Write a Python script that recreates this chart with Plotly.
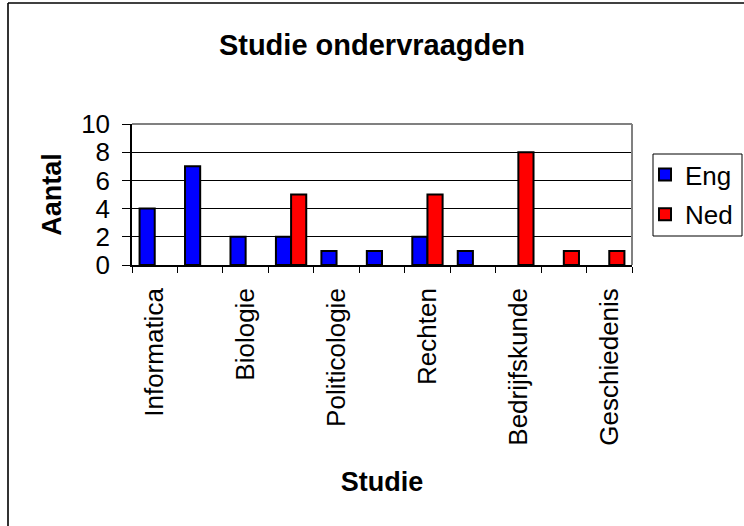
import plotly.graph_objects as go

# only every other category label is readable in the chart; the others are left blank
categories = ["Informatica", "", "Biologie", "", "Politicologie", "",
              "Rechten", "", "Bedrijfskunde", "", "Geschiedenis"]
eng = [4, 7, 2, 2, 1, 1, 2, 1, None, None, None]
ned = [None, None, None, 5, None, None, 5, None, 8, 1, 1]
y_ticks = [0, 2, 4, 6, 8, 10]

W, H = 744, 526
L, R, T, B = 132, 112, 124, 261


def px(x):
    return (x - L) / (W - L - R)


def py(y):
    return (H - B - y) / (H - T - B)


pos = list(range(len(categories)))
font = "Liberation Sans, Arial, sans-serif"

fig = go.Figure()
fig.add_trace(go.Bar(x=pos, y=eng, name="Eng", legendgroup="eng",
                     marker=dict(color="#0000FF", line=dict(color="black", width=2))))
fig.add_trace(go.Bar(x=pos, y=ned, name="Ned", legendgroup="ned",
                     marker=dict(color="#FF0000", line=dict(color="black", width=2))))

# plot area top/right border (grey) and outer chart border
fig.add_shape(type="line", xref="paper", yref="paper", x0=0, x1=1, y0=1, y1=1,
              line=dict(color="#808080", width=2))
fig.add_shape(type="line", xref="paper", yref="paper", x0=1, x1=1, y0=0, y1=1,
              line=dict(color="#808080", width=2))
fig.add_shape(type="line", xref="paper", yref="paper", x0=px(8), x1=px(8),
              y0=py(3), y1=py(530), line=dict(color="#333333", width=2))
fig.add_shape(type="line", xref="paper", yref="paper", x0=px(8), x1=px(750),
              y0=py(3), y1=py(3), line=dict(color="black", width=1.5))
# legend frame
fig.add_shape(type="rect", xref="paper", yref="paper", x0=px(653), x1=px(742),
              y0=py(236), y1=py(154), line=dict(color="black", width=1))

fig.update_layout(
    width=W, height=H,
    margin=dict(l=L, r=R, t=T, b=B, autoexpand=False),
    plot_bgcolor="white", paper_bgcolor="white",
    barmode="group", bargap=0.333, bargroupgap=0,
    font=dict(family=font, size=26, color="black"),
    title=dict(text="<b>Studie ondervraagden</b>", xref="container", x=372 / W,
               xanchor="center", y=1 - 45 / H, yanchor="middle", font=dict(size=29)),
    legend=dict(xref="container", yref="container", x=645 / W, y=1 - 151 / H,
                xanchor="left", yanchor="top", borderwidth=0,
                bgcolor="rgba(0,0,0,0)", font=dict(size=26),
                traceorder="grouped", tracegroupgap=3, itemwidth=30),
)
fig.update_xaxes(
    range=[-0.5, len(categories) - 0.5],
    tickmode="array", tickvals=[i for i, c in enumerate(categories) if c],
    ticktext=[c for c in categories if c], tickangle=-90,
    ticks="", ticklabelstandoff=11,
    showline=True, linecolor="black", linewidth=1.5,
    minor=dict(tickmode="array", tickvals=[i - 0.5 for i in range(len(categories) + 1)],
               ticks="outside", ticklen=6, tickcolor="black", tickwidth=1, showgrid=False),
    title=dict(text="<b>Studie</b>", font=dict(size=27), standoff=27),
    showgrid=False, zeroline=False,
)
fig.update_yaxes(
    range=[0, 10], tickvals=y_ticks, ticks="outside", ticklen=8, tickcolor="black",
    ticklabelstandoff=7,
    showline=True, linecolor="black", linewidth=1.5,
    showgrid=True, gridcolor="black", gridwidth=1, zeroline=False,
    title=dict(text="<b>Aantal</b>", font=dict(size=27), standoff=12),
)

# the page body has a default 8px margin; drop it so the figure sits at (0, 0)
fig.write_html("out.html", config={"displayModeBar": False},
               post_script="document.body.style.margin='0';")
